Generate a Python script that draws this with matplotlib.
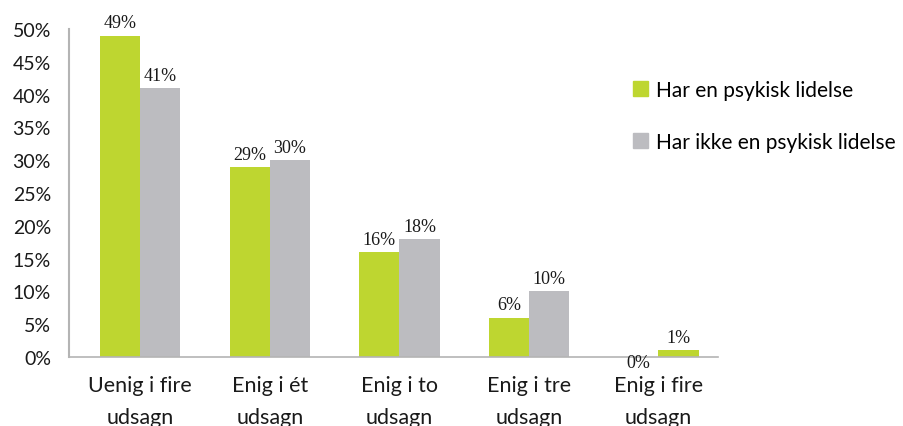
import numpy as np
import matplotlib.pyplot as plt

# data
categories = ['Uenig i fire\nudsagn', 'Enig i ét\nudsagn', 'Enig i to\nudsagn',
              'Enig i tre\nudsagn', 'Enig i fire\nudsagn']
har_lidelse = [49, 29, 16, 6, 0]
ikke_lidelse = [41, 30, 18, 10, 1]
series_names = ['Har en psykisk lidelse', 'Har ikke en psykisk lidelse']
yticks = [0, 5, 10, 15, 20, 25, 30, 35, 40, 45, 50]

green = '#bed630'
grey = '#bcbcc0'
axis_col = '#b4b4b4'

fig = plt.figure(figsize=(9.04, 4.27), dpi=100)
ax = fig.add_axes([0.0763, 0.1616, 0.718, 0.768])

x = np.arange(len(categories))
w = 0.31
b1 = ax.bar(x - w/2, har_lidelse, w, color=green, label=series_names[0])
# in the source the last group's non-zero bar is drawn green
c2 = [grey] * (len(categories) - 1) + [green]
b2 = ax.bar(x + w/2, ikke_lidelse, w, color=c2, label=series_names[1])

for bars in (b1, b2):
    for r in bars:
        v = r.get_height()
        off = 3 if v > 0 else -10
        ax.annotate('%d%%' % v, (r.get_x() + r.get_width()/2, v),
                    xytext=(0, off), textcoords='offset points',
                    ha='center', va='bottom', fontsize=13,
                    family='Liberation Serif', color='#1a1a1a')

ax.set_ylim(0, 50)
ax.set_xlim(-0.55, 4.46)
ax.set_yticks(yticks)
ax.set_yticklabels(['%d%%' % t for t in yticks], family='Lato', fontsize=14)
ax.set_xticks(x)
ax.set_xticklabels(categories, family='Lato', fontsize=15.5, linespacing=1.75)
ax.tick_params(axis='y', length=0, pad=13, colors='#1a1a1a')
ax.tick_params(axis='x', length=0, pad=13, colors='#1a1a1a')

for s in ['top', 'right']:
    ax.spines[s].set_visible(False)
ax.spines['left'].set_color(axis_col)
ax.spines['bottom'].set_color(axis_col)
ax.spines['left'].set_linewidth(1.5)
ax.spines['bottom'].set_linewidth(1.2)

h = [plt.Rectangle((0, 0), 1, 1, color=green), plt.Rectangle((0, 0), 1, 1, color=grey)]
fig.legend(h, series_names, loc='upper left', bbox_to_anchor=(0.68, 0.855),
           frameon=False, prop={'family': 'Lato', 'size': 15},
           handlelength=0.7, handleheight=0.7, handletextpad=0.4, labelspacing=1.55)

fig.savefig('out.png', dpi=100)
